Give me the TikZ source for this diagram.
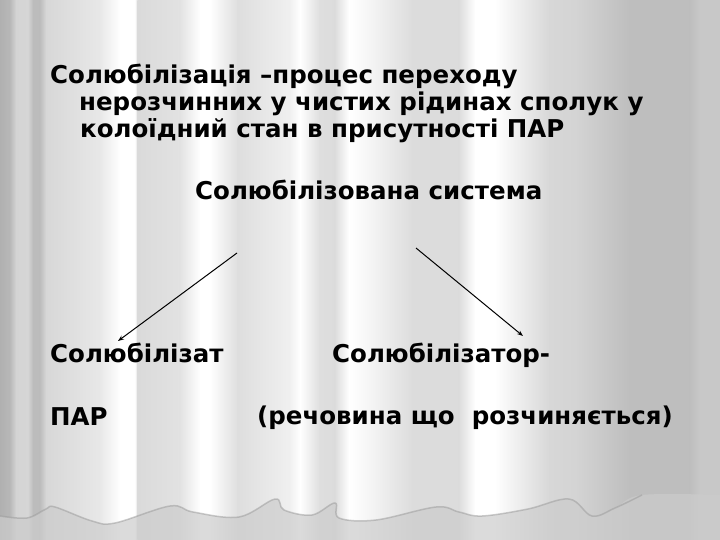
\documentclass[tikz,border=0pt]{standalone}
\usepackage{fontspec}
\setmainfont{DejaVu Sans}
\usetikzlibrary{arrows.meta}
\definecolor{hemgray}{gray}{0.8}
\tikzset{
  txt/.style={anchor=base west, inner sep=0pt, font=\fontsize{24.5pt}{29pt}\selectfont\bfseries, text=black},
  conn/.style={draw=black, line width=1pt, -{Stealth[length=6pt,width=4.5pt]}}
}
\begin{document}
\begin{tikzpicture}[x=1pt,y=-1pt]
\useasboundingbox (0,0) rectangle (720,540);
% curtain stripes
\foreach \xa/\ga/\xb/\gb in {0/176/10/184, 10/184/16/212, 16/212/28/214, 28/214/33/188, 33/188/40/188, 40/188/46/215, 46/215/100/232, 100/232/120/255, 120/255/135/255, 135/255/137.5/218, 137.5/218/180/226, 180/226/200/255, 200/255/210/255, 210/255/238/222, 238/222/290/240, 290/240/300/255, 300/255/320/222, 320/222/335/220, 335/220/349/255, 349/255/370/245, 370/245/413/220, 413/220/459/220, 459/220/475/255, 475/255/495/255, 495/255/550/215, 550/215/575/212, 575/212/630/190, 630/190/690/190, 690/190/700/200, 700/200/720/200}{
  \pgfmathsetmacro\fa{\ga/255}\pgfmathsetmacro\fb{\gb/255}
  \definecolor{ca}{gray}{\fa}\definecolor{cb}{gray}{\fb}
  \shade[left color=ca,right color=cb] (\xa-0.2,0) rectangle (\xb+0.2,540);
}
% bottom hem
\fill[hemgray,opacity=0.7] plot[smooth,tension=0.6] coordinates {(0,516) (27,518) (46,509) (55,507) (92,521) (115,523) (170,506) (193,512) (239,517) (275,499) (284,510) (312,515) (335,503) (339,518) (376,520) (436,507) (459,512) (482,516) (528,509) (569,499) (592,516) (615,508) (642,495) (720,495)} -- (720,540) -- (0,540) -- cycle;
\draw[black!40,opacity=0.5,line width=1.5pt] plot[smooth,tension=0.6] coordinates {(0,516) (27,518) (46,509) (55,507) (92,521) (115,523) (170,506) (193,512) (239,517) (275,499) (284,510) (312,515) (335,503) (339,518) (376,520) (436,507) (459,512) (482,516) (528,509) (569,499) (592,516) (615,508) (642,495)};
% texts
\node[txt] (t1) at (50,84) {Солюбілізація –процес переходу};
\node[txt] (t2) at (79,111) {нерозчинних у чистих рідинах сполук у};
\node[txt] (t3) at (80,138) {колоїдний стан в присутності ПАР};
\node[txt] (sys) at (195,200) {Солюбілізована система};
\node[txt] (sat) at (50,362) {Солюбілізат};
\node[txt] (par) at (50,425) {ПАР};
\node[txt] (sor) at (332,362) {Солюбілізатор-};
\node[txt] (rech) at (257,424) {(речовина що\ \ розчиняється)};
% connectors
\coordinate (a1) at (237,253);
\coordinate (a2) at (118,341);
\coordinate (b1) at (416,248);
\coordinate (b2) at (523,336);
\draw[conn] (a1) -- (a2);
\draw[conn] (b1) -- (b2);
\end{tikzpicture}
\end{document}
